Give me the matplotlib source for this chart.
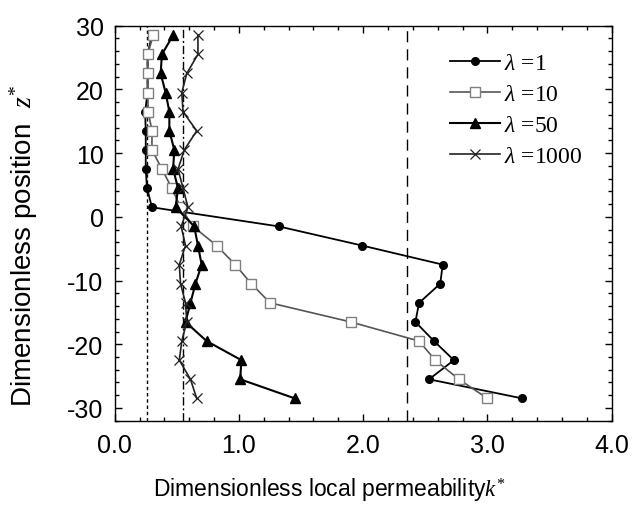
import matplotlib
matplotlib.use("Agg")
import matplotlib.pyplot as plt
from matplotlib.ticker import MultipleLocator

plt.rcParams['font.family'] = ['Liberation Sans', 'DejaVu Sans']
plt.rcParams['mathtext.fontset'] = 'custom'
plt.rcParams['mathtext.rm'] = 'Liberation Serif'
plt.rcParams['mathtext.it'] = 'Liberation Serif:italic'
plt.rcParams['axes.unicode_minus'] = False

# dimensionless position of each sample (top to bottom)
z = [28.5, 25.5, 22.5, 19.5, 16.5, 13.5, 10.5, 7.5, 4.5, 1.5,
     -1.5, -4.5, -7.5, -10.5, -13.5, -16.5, -19.5, -22.5, -25.5, -28.5]

# local permeability k* for each lambda
k_lam1 = [0.30, 0.265, 0.265, 0.265, 0.245, 0.25, 0.25, 0.25, 0.26, 0.30,
          1.32, 1.99, 2.64, 2.62, 2.45, 2.42, 2.57, 2.73, 2.53, 3.28]
k_lam10 = [0.31, 0.265, 0.265, 0.265, 0.27, 0.30, 0.30, 0.38, 0.46, 0.53,
           0.63, 0.82, 0.97, 1.10, 1.25, 1.90, 2.45, 2.58, 2.77, 3.00]
k_lam50 = [0.47, 0.38, 0.37, 0.41, 0.44, 0.44, 0.48, 0.47, 0.51, 0.49,
           0.64, 0.67, 0.70, 0.65, 0.61, 0.57, 0.74, 1.02, 1.01, 1.45]
k_lam1000 = [0.67, 0.67, 0.58, 0.54, 0.55, 0.66, 0.56, 0.51, 0.55, 0.59,
             0.535, 0.57, 0.52, 0.53, 0.57, 0.58, 0.54, 0.52, 0.61, 0.66]

# reference permeabilities (vertical lines)
k_ref_dotted = 0.26
k_ref_dashdot = 0.55
k_ref_dashed = 2.35

fig = plt.figure(figsize=(6.35, 5.06), dpi=100)
ax = fig.add_axes([0.1806, 0.1666, 0.7827, 0.7806])

ax.axvline(k_ref_dotted, color='black', lw=1.0, ls=(0, (2.5, 2)))
ax.axvline(k_ref_dashdot, color='black', lw=1.0, ls=(0, (6, 2, 1.5, 2)))
ax.axvline(k_ref_dashed, color='black', lw=1.0, ls=(0, (8, 5)))

ax.plot(k_lam1, z, color='black', lw=1.3, marker='o', ms=5.5,
        mfc='black', mec='black', label=r'$\lambda$ =1')
ax.plot(k_lam10, z, color='#555555', lw=1.2, marker='s', ms=6.5,
        mfc='white', mec='#808080', mew=1.0, label=r'$\lambda$ =10')
ax.plot(k_lam50, z, color='black', lw=1.5, marker='^', ms=7.5,
        mfc='black', mec='black', label=r'$\lambda$ =50')
ax.plot(k_lam1000, z, color='#222222', lw=1.2, marker='x', ms=6.5,
        mew=0.9, label=r'$\lambda$ =1000')

ax.set_xlim(0, 4.0)
ax.set_ylim(-32, 30)
ax.xaxis.set_minor_locator(MultipleLocator(0.2))
ax.yaxis.set_major_locator(MultipleLocator(10))
ax.yaxis.set_minor_locator(MultipleLocator(2))
ax.set_xticks([0, 1, 2, 3, 4])
ax.set_xticklabels(['0.0', '1.0', '2.0', '3.0', '4.0'])
ax.tick_params(which='both', direction='in', top=True, right=True,
               labelsize=18, width=1.0)
ax.tick_params(which='major', length=5)
ax.tick_params(axis='x', which='major', pad=9)
ax.tick_params(axis='y', which='major', pad=8)
ax.tick_params(which='minor', length=3)
for sp in ax.spines.values():
    sp.set_linewidth(1.0)

ax.set_xlabel(r'Dimensionless local permeability$\mathit{k}^{*}$', fontsize=16.5)
ax.set_ylabel(r'Dimensionless position  $\mathit{z}^{*}$', fontsize=20)
ax.xaxis.set_label_coords(0.433, -0.14)
ax.yaxis.set_label_coords(-0.15, 0.445)

ax.legend(loc='upper left', bbox_to_anchor=(0.675, 0.932), frameon=False,
          prop={'family': 'Liberation Serif', 'size': 17},
          borderaxespad=0, borderpad=0,
          handlelength=2.1, handletextpad=0.2, labelspacing=0.4)

fig.savefig('out.png', dpi=100)
